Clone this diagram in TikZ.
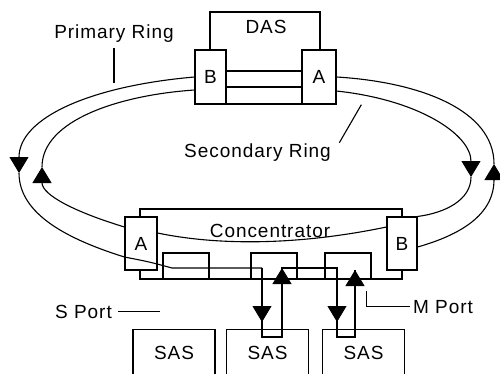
\documentclass[tikz,border=0pt]{standalone}
\usepackage{fontspec}
\setmainfont{Liberation Sans}[LetterSpace=5]
\usetikzlibrary{arrows.meta}

\begin{document}
\begin{tikzpicture}[x=1pt, y=-1pt, line width=1.1pt,
  every node/.style={font=\fontsize{19}{22}\selectfont, inner sep=0pt},
  box/.style={draw, rectangle, fill=white, minimum width=31pt, minimum height=54pt},
  slot/.style={draw, rectangle, minimum width=46pt, minimum height=26pt},
  sas/.style={draw, rectangle, anchor=north, minimum width=82pt, minimum height=46pt},
  flow/.style={-{Triangle[width=19pt, length=16pt]}}]
  \useasboundingbox (0,0) rectangle (500,373);
  \clip (0,0) rectangle (500,373);

  \node (das) [draw, minimum width=110pt, minimum height=92pt] at (265,58) {};
  \node (dasname) [anchor=base] at (266,33) {DAS};
  \node (dasB) [box] at (210.5,77) {B};
  \node (dasA) [box, minimum width=34pt] at (319,77) {A};

  \node (con) [draw, minimum width=262pt, minimum height=70pt] at (271,244) {};
  \node (conname) [anchor=base] at (270,237) {Concentrator};
  \node (p1) [slot] at (186,266) {};
  \node (p2) [slot] at (274,266) {};
  \node (p3) [slot] at (348,266) {};
  \node (conA) [box, minimum width=32pt, minimum height=53pt] at (141,243.5) {A};
  \node (conB) [box, minimum width=30pt, minimum height=53pt] at (402,243.5) {B};

  \node (sas1) [sas] at (174,329) {SAS};
  \node (sas2) [sas] at (267.5,329) {SAS};
  \node (sas3) [sas] at (363.5,329) {SAS};

  \node (prilabel) [anchor=base] at (114,38.5) {Primary Ring};
  \node (seclabel) [anchor=base] at (257.5,157) {Secondary Ring};
  \node (sport) [anchor=base] at (83.5,318) {S Port};
  \node (mport) [anchor=base] at (443,313) {M Port};

  \coordinate (pl) at (19,173);
  \coordinate (sl) at (42,167);
  \coordinate (pr) at (494,164);
  \coordinate (sr) at (471,177);
  \coordinate (in2) at (262,268);
  \coordinate (out2) at (282,268);
  \coordinate (in3) at (337,268);
  \coordinate (out3) at (355,270);

  \draw[flow] (dasB.west) .. controls (90,86) and (19,118) .. (pl);
  \draw (pl) .. controls (19,215) and (70,240) .. ([yshift=-13.5pt]conA.west)
    .. controls (150,262) .. (172,268) -- (in2);
  \draw[flow] ([yshift=-3.5pt]conB.east) .. controls (460,235) and (494,215) .. (pr);
  \draw (pr) .. controls (494,110) and (420,82) .. (dasA.east);

  \draw[flow] ([yshift=-14pt]dasA.east) .. controls (420,100) and (471,135) .. (sr);
  \draw (sr) .. controls (471,200) and (445,213) .. (conB.north east);
  \draw ([yshift=16.5pt]conB.west) .. controls (300,245) and (220,246) .. ([yshift=10.5pt]conA.east);
  \draw[flow] ([yshift=16.5pt]conA.west) .. controls (75,212) and (42,195) .. (sl);
  \draw (sl) .. controls (42,120) and (120,95) .. ([yshift=-13pt]dasB.west);
  \draw ([yshift=6pt]dasB.east) -- ([yshift=6pt]dasA.west);
  \draw ([yshift=-10pt]dasB.east) -- ([yshift=-10pt]dasA.west);

  \draw (in2) -- ++(0,69) -| (out2) -- (in3) -- ++(0,69) -| (out3);
  \draw[flow] (in2) -- ++(0,54);
  \draw[flow] ([yshift=-30pt]out2) -- (out2);
  \draw[flow] (in3) -- ++(0,54);
  \draw[flow] ([yshift=-30pt]out3) -- (out3);

  \draw ([yshift=-5.5pt]prilabel.south) -- ++(0,35);
  \draw ([xshift=8pt]seclabel.north east) -- ++(22,-38);
  \draw ([xshift=6pt]sport.east) -- ++(42,0);
  \draw ([xshift=-3pt]mport.west) -| ++(-43,-16);
\end{tikzpicture}
\end{document}
